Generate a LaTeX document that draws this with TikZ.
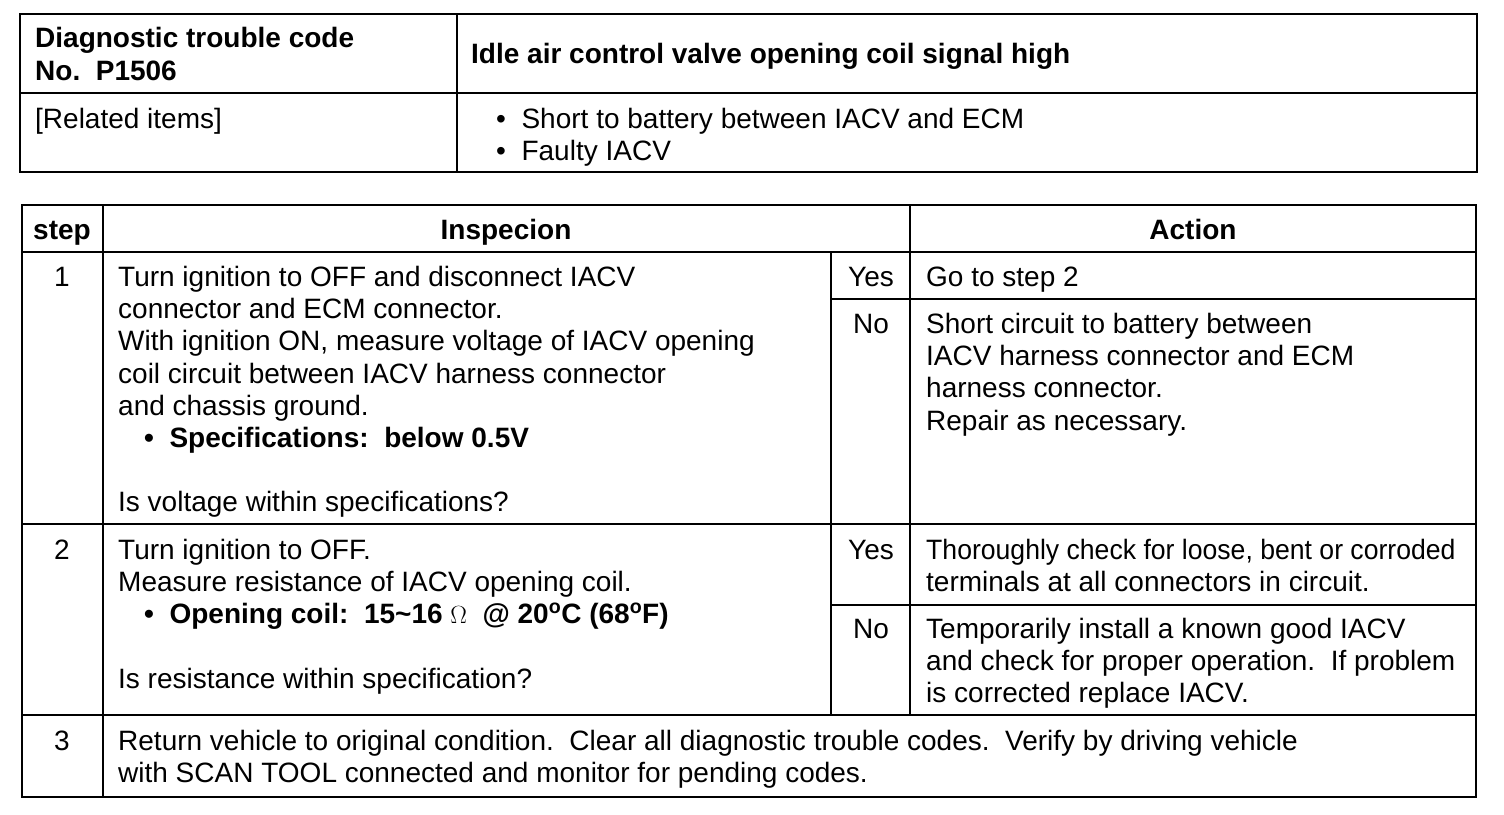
\documentclass[tikz,border=0pt]{standalone}
\usepackage{fontspec}
\usepackage{graphicx}
\setmainfont{Liberation Sans}
\begin{document}
\begin{tikzpicture}[x=1pt,y=-1pt,
  rule/.style={line width=2pt,line cap=rect},
  tx/.style={anchor=base west,inner sep=0pt,font=\fontsize{28}{32.3}\selectfont},
  tb/.style={tx,font=\fontsize{28}{32.3}\selectfont\bfseries},
  tc/.style={tx,anchor=base},
  tcb/.style={tb,anchor=base}]
\useasboundingbox (0,0) rectangle (1504,814);
% top table
\draw[rule] (20,14) rectangle (1477,172);
\draw[rule] (20,93) -- (1477,93);
\draw[rule] (457,14) -- (457,172);
\node[tb] (dtc1) at (35,47) {Diagnostic trouble code};
\node[tb] (dtc2) at (35,80) {No.\ \ P1506};
\node[tb] (title) at (471,63) {Idle air control valve opening coil signal high};
\node[tx] (rel) at (35,128) {[Related items]};
\node[tx] (b1) at (496,128) {\textbullet\ \ Short to battery between IACV and ECM};
\node[tx] (b2) at (496,160) {\textbullet\ \ Faulty IACV};
% bottom table
\draw[rule] (22,205) rectangle (1476,797);
\draw[rule] (22,252) -- (1476,252);
\draw[rule] (103,205) -- (103,797);
\draw[rule] (910,205) -- (910,715);
\draw[rule] (831,252) -- (831,715);
\draw[rule] (22,524) -- (1476,524);
\draw[rule] (22,715) -- (1476,715);
\draw[rule] (831,299) -- (1476,299);
\draw[rule] (831,605) -- (1476,605);
% header
\node[tcb] (hstep) at (62,239) {step};
\node[tcb] (hins) at (506,239) {Inspecion};
\node[tcb] (hact) at (1193,239) {Action};
% row 1
\node[tc] (s1) at (62,286) {1};
\node[tx] (r1a) at (118,286) {Turn ignition to OFF and disconnect IACV};
\node[tx] (r1b) at (118,318) {connector and ECM connector.};
\node[tx] (r1c) at (118,350) {With ignition ON, measure voltage of IACV opening};
\node[tx] (r1d) at (118,383) {coil circuit between IACV harness connector};
\node[tx] (r1e) at (118,415) {and chassis ground.};
\node[tb] (r1f) at (144,447) {\textbullet\ \ Specifications:\ \ below 0.5V};
\node[tx] (r1g) at (118,511) {Is voltage within specifications?};
\node[tc] (y1) at (871,286) {Yes};
\node[tx] (a1y) at (926,286) {Go to step 2};
\node[tc] (n1) at (871,333) {No};
\node[tx] (a1n1) at (926,333) {Short circuit to battery between};
\node[tx] (a1n2) at (926,365) {IACV harness connector and ECM};
\node[tx] (a1n3) at (926,397) {harness connector.};
\node[tx] (a1n4) at (926,430) {Repair as necessary.};
% row 2
\node[tc] (s2) at (62,559) {2};
\node[tx] (r2a) at (118,559) {Turn ignition to OFF.};
\node[tx] (r2b) at (118,591) {Measure resistance of IACV opening coil.};
\node[tb] (r2c) at (144,623) {\textbullet\ \ Opening coil:\ \ 15\textasciitilde 16 {\mdseries\fontsize{25}{28}\selectfont$\Omega$}\ \ @ 20\textsuperscript{o}C (68\textsuperscript{o}F)};
\node[tx] (r2d) at (118,688) {Is resistance within specification?};
\node[tc] (y2) at (871,559) {Yes};
\node[tx] (a2y1) at (926,559) {\scalebox{0.95}[1]{Thoroughly check for loose, bent or corroded}};
\node[tx] (a2y2) at (926,591) {terminals at all connectors in circuit.};
\node[tc] (n2) at (871,638) {No};
\node[tx] (a2n1) at (926,638) {Temporarily install a known good IACV};
\node[tx] (a2n2) at (926,670) {and check for proper operation.\ \ If problem};
\node[tx] (a2n3) at (926,702) {is corrected replace IACV.};
% row 3
\node[tc] (s3) at (62,750) {3};
\node[tx] (r3a) at (118,750) {Return vehicle to original condition.\ \ Clear all diagnostic trouble codes.\ \ Verify by driving vehicle};
\node[tx] (r3b) at (118,782) {with SCAN TOOL connected and monitor for pending codes.};
\end{tikzpicture}
\end{document}
